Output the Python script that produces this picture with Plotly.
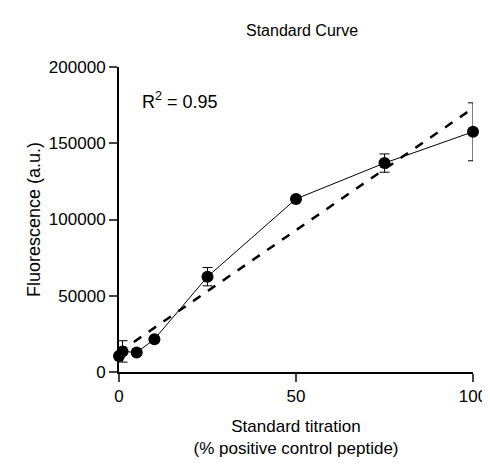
import plotly.graph_objects as go

# Standard titration data
titration = [0, 1, 5, 10, 25, 50, 75, 100]
fluorescence = [10500, 13500, 12800, 21500, 62500, 113500, 137000, 157500]
errors = [0, 7000, 0, 0, 6000, 0, 6000, 19000]

# Linear fit endpoints
fit_x = [0, 100]
fit_y = [13000, 173000]

fig = go.Figure()

fig.add_trace(go.Scatter(x=fit_x, y=fit_y, mode='lines',
                         line=dict(color='black', width=2.5, dash='dash'),
                         showlegend=False, cliponaxis=False))

fig.add_trace(go.Scatter(x=titration, y=fluorescence, mode='lines+markers',
                         line=dict(color='black', width=1),
                         marker=dict(color='black', size=12),
                         error_y=dict(type='data', array=errors, color='black',
                                      thickness=1, width=5),
                         showlegend=False, cliponaxis=False))

fig.add_annotation(x=6, y=178000, text='R<sup>2</sup> = 0.95', showarrow=False,
                   xanchor='left', font=dict(size=18, color='black'))

fig.update_layout(
    title=dict(text='Standard Curve', x=0.6, y=0.965, font=dict(size=16, color='black')),
    width=490, height=469,
    margin=dict(l=111, r=25, t=59, b=105),
    plot_bgcolor='white', paper_bgcolor='white',
    font=dict(family='Liberation Sans, Arial', color='black', size=17),
)
fig.update_xaxes(range=[0, 100], tickvals=[0, 50, 100], showgrid=False, zeroline=False,
                 showline=True, linecolor='black', linewidth=2, ticks='outside',
                 ticklen=8, tickwidth=2, tickfont=dict(size=17),
                 title=dict(text='Standard titration<br>(% positive control peptide)',
                            font=dict(size=17)))
fig.update_yaxes(range=[0, 200000], tickvals=[0, 50000, 100000, 150000, 200000],
                 tickformat='d', showgrid=False, zeroline=False,
                 showline=True, linecolor='black', linewidth=2, ticks='outside',
                 ticklen=8, tickwidth=2, tickfont=dict(size=17),
                 title=dict(text='Fluorescence (a.u.)', font=dict(size=18), standoff=4))

fig.write_html("out.html")
